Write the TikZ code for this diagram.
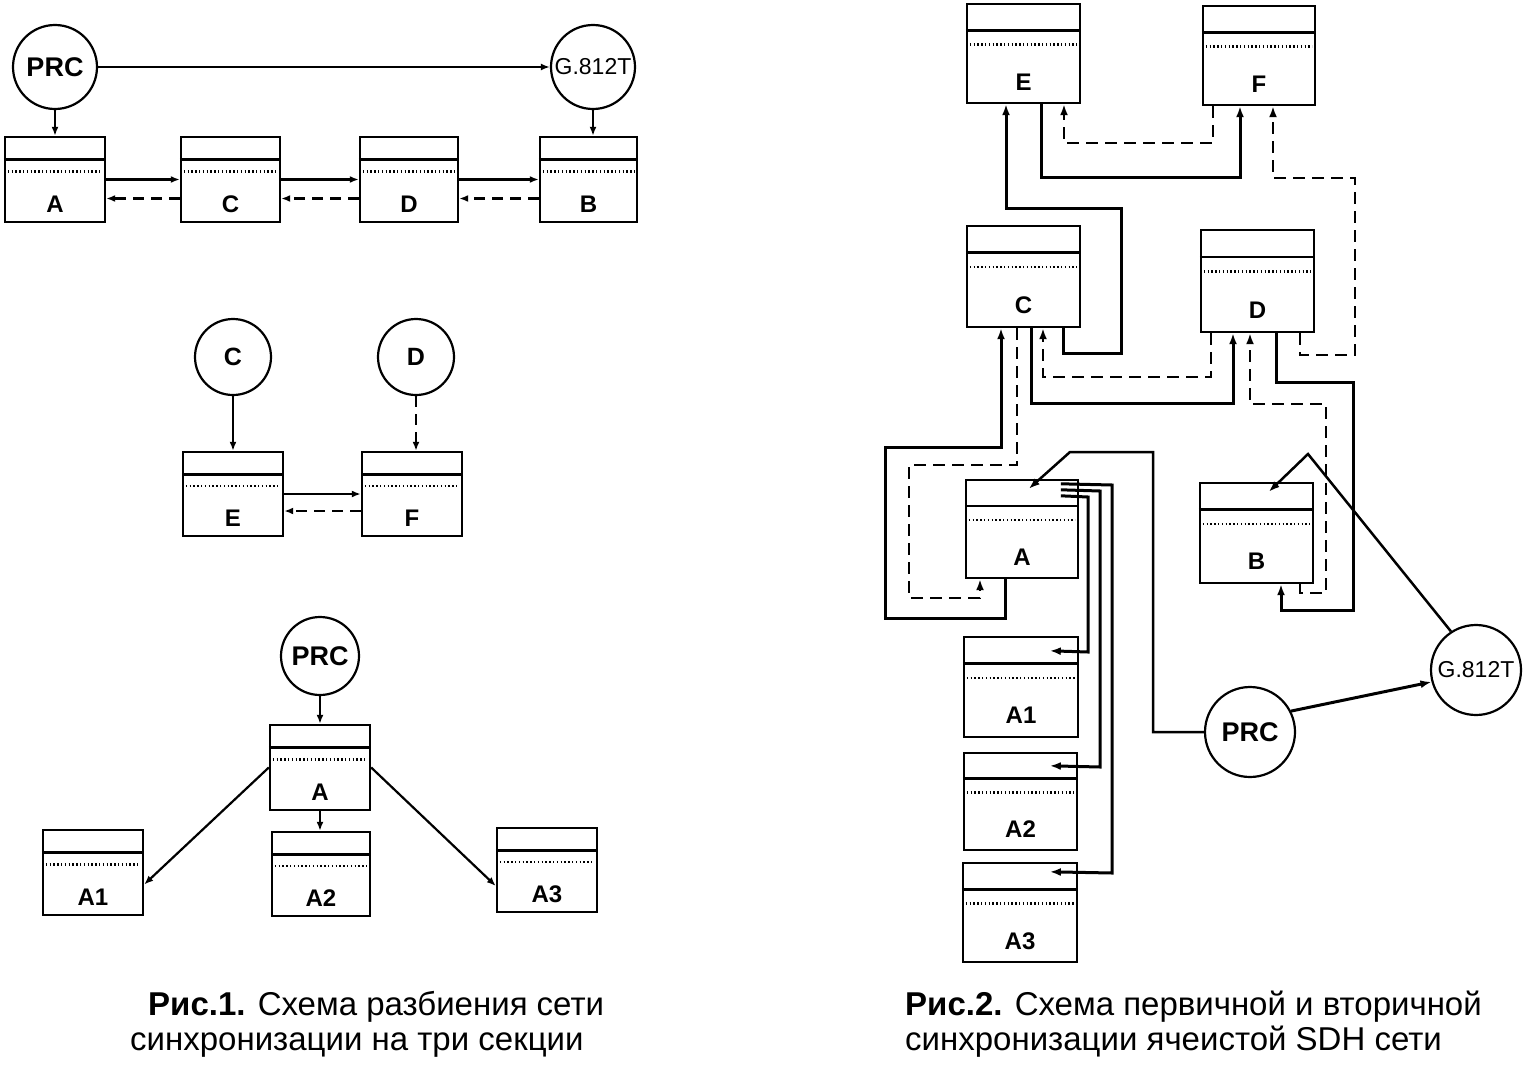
\documentclass[tikz,border=0pt]{standalone}
\usepackage{fontspec}
\setmainfont{Liberation Sans}
\usetikzlibrary{arrows.meta,calc}
\newcommand{\sdhbox}[6]{%
  \node[unitbox, minimum width={(#4-#2)*1pt}, minimum height={(#5-#3)*1pt}] (#1) at ({(#2+#4)/2},{(#3+#5)/2}) {};
  \draw[sepline] ($(#1.north west)!0.27!(#1.south west)$) -- ($(#1.north east)!0.27!(#1.south east)$);
  \draw[dotline] ($(#1.north west)!0.41!(#1.south west)+(4,0)$) -- ($(#1.north east)!0.41!(#1.south east)+(-4,0)$);
  \node[boxlabel] (#1l) at ($(#1.north)!0.78!(#1.south)$) {#6};
}
\begin{document}
\begin{tikzpicture}[x=1pt,y=-1pt,
 unitbox/.style={draw, line width=2.4pt, inner sep=0pt, rectangle},
 sepline/.style={line width=2.8pt},
 dotline/.style={line width=2.4pt, dash pattern=on 1.4pt off 2.4pt},
 boxlabel/.style={font=\fontsize{24}{24}\selectfont\bfseries, inner sep=0pt},
 circ/.style={draw, circle, line width=2.2pt, inner sep=0pt},
 conn/.style={line width=2.2pt, -{Latex[length=9pt,width=7pt]}},
 dconn/.style={conn, dash pattern=on 11pt off 7pt},
 conn2/.style={line width=3pt, -{Latex[length=11pt,width=8pt]}},
 dconn2/.style={line width=2.5pt, dash pattern=on 12pt off 7pt, -{Latex[length=11pt,width=8pt]}},
 thin2/.style={line width=2.5pt, -{Latex[length=11pt,width=8pt]}},
 captext/.style={anchor=base west, inner sep=0pt, font=\fontsize{33}{33}\selectfont},
]
\useasboundingbox (0,0) rectangle (1525,1065);

% ---------- Figure 1, top ----------
\node[circ, minimum size=84pt, font=\fontsize{27}{27}\selectfont\bfseries] (prc1) at (55,67) {PRC};
\node[circ, minimum size=84pt, font=\fontsize{23}{23}\selectfont] (g1) at (593,67) {G.812T};
\sdhbox{a1}{5}{137}{105}{222}{A}
\sdhbox{c1}{181}{137}{280}{222}{C}
\sdhbox{d1}{360}{137}{458}{222}{D}
\sdhbox{b1}{540}{137}{637}{222}{B}
\draw[conn] (prc1) -- (g1);
\draw[conn] (prc1) -- (prc1 |- a1.north);
\draw[conn] (g1) -- (g1 |- b1.north);
\draw[conn] (a1.east) -- (c1.west);
\draw[conn] (c1.east) -- (d1.west);
\draw[conn] (d1.east) -- (b1.west);
\draw[dconn] ([yshift=-19pt]c1.west) -- ([yshift=-19pt]a1.east);
\draw[dconn] ([yshift=-19pt]d1.west) -- ([yshift=-19pt]c1.east);
\draw[dconn] ([yshift=-19pt]b1.west) -- ([yshift=-19pt]d1.east);

% ---------- Figure 1, middle ----------
\node[circ, minimum size=76pt, font=\fontsize{25}{25}\selectfont\bfseries] (cc) at (233,357) {C};
\node[circ, minimum size=76pt, font=\fontsize{25}{25}\selectfont\bfseries] (dc) at (416,357) {D};
\sdhbox{e1}{183}{452}{283}{536}{E}
\sdhbox{f1}{362}{452}{462}{536}{F}
\draw[conn] (cc) -- (cc |- e1.north);
\draw[dconn] (dc) -- (dc |- f1.north);
\draw[conn] (e1.east) -- (f1.west);
\draw[dconn] ([yshift=-17pt]f1.west) -- ([yshift=-17pt]e1.east);

% ---------- Figure 1, bottom ----------
\node[circ, minimum size=78pt, font=\fontsize{27}{27}\selectfont\bfseries] (prc3) at (320,656) {PRC};
\sdhbox{a3}{270}{725}{370}{810}{A}
\sdhbox{a31}{43}{830}{143}{915}{A1}
\sdhbox{a32}{272}{832}{370}{916}{A2}
\sdhbox{a33}{497}{828}{597}{912}{A3}
\draw[conn] (prc3) -- (prc3 |- a3.north);
\draw[conn] (a3.south) -- (a3.south |- a32.north);
\draw[conn] (a3.west) -- ([yshift=-12pt]a31.east);
\draw[conn] (a3.east) -- ([yshift=-16pt]a33.west);

% ---------- Figure 2 ----------
\sdhbox{e2}{967}{4}{1080}{103}{E}
\sdhbox{f2}{1203}{6}{1315}{105}{F}
\sdhbox{c2}{967}{226}{1080}{327}{C}
\sdhbox{d2}{1201}{230}{1314}{332}{D}
\sdhbox{a2}{966}{480}{1078}{578}{A}
\sdhbox{b2}{1200}{483}{1313}{583}{B}
\sdhbox{a21}{964}{637}{1078}{737}{A1}
\sdhbox{a22}{964}{753}{1077}{850}{A2}
\sdhbox{a23}{963}{863}{1077}{962}{A3}
\node[circ, minimum size=90pt, font=\fontsize{27}{27}\selectfont\bfseries] (prc2) at (1250,732) {PRC};
\node[circ, minimum size=90pt, font=\fontsize{23}{23}\selectfont] (g2) at (1476,670) {G.812T};

% C -> E, E -> F, F -> E, D -> F
\draw[conn2] (c2.south -| 1063,0) -- (1063,353) -- (1121,353) -- (1121,208) -- (1006,208) -- (e2.south -| 1006,0);
\draw[conn2] (e2.south -| 1041,0) -- (1041,177) -- (1240,177) -- (f2.south -| 1240,0);
\draw[dconn2] (f2.south -| 1213,0) -- (1213,143) -- (1064,143) -- (e2.south -| 1064,0);
\draw[dconn2] (d2.south -| 1300,0) -- (1300,355) -- (1355,355) -- (1355,178) -- (1273,178) -- (f2.south -| 1273,0);

% A <-> C, C <-> D, D <-> B
\draw[conn2] (a2.south -| 1005,0) -- (1005,618) -- (885,618) -- (885,447) -- (1001,447) -- (c2.south -| 1001,0);
\draw[dconn2] (c2.south -| 1017,0) -- (1017,465) -- (909,465) -- (909,598) -- (980,598) -- (a2.south -| 980,0);
\draw[conn2] (c2.south -| 1031,0) -- (1031,403) -- (1233,403) -- (d2.south -| 1233,0);
\draw[dconn2] (d2.south -| 1211,0) -- (1211,377) -- (1043,377) -- (c2.south -| 1043,0);
\draw[dconn2] (b2.south -| 1300,0) -- (1300,593) -- (1326,593) -- (1326,404) -- (1250,404) -- (d2.south -| 1250,0);
\draw[conn2] (d2.south -| 1276,0) -- (1276,382) -- (1353,382) -- (1353,610) -- (1281,610) -- (b2.south -| 1281,0);

% PRC -> A, PRC -> G.812T, G.812T -> B
\draw[thin2] (prc2.west) -- (prc2.west -| 1153,0) -- (1153,452) -- (1070,452) -- ([shift={(64,10)}]a2.north west);
\draw[conn2] (prc2.27) -- (g2.195);
\draw[thin2] (g2.123) -- (1308,454) -- ([shift={(70,10)}]b2.north west);

% A -> A1, A2, A3
\draw[conn2] ([shift={(96,17)}]a2.north west) -- (1088,497) -- (1088,652) -- ([shift={(87,15)}]a21.north west);
\draw[conn2] ([shift={(96,11)}]a2.north west) -- (1100,491) -- (1100,767) -- ([shift={(87,14)}]a22.north west);
\draw[conn2] ([shift={(96,5)}]a2.north west) -- (1112,485) -- (1112,873) -- ([shift={(88,10)}]a23.north west);

% ---------- Captions ----------
\node[captext] (cap1a) at (148,1015) {\textbf{Рис.1.} Схема разбиения сети};
\node[captext] (cap1b) at (130,1050) {синхронизации на три секции};
\node[captext] (cap2a) at (905,1015) {\textbf{Рис.2.} Схема первичной и вторичной};
\node[captext] (cap2b) at (905,1050) {синхронизации ячеистой SDH сети};
\end{tikzpicture}
\end{document}
